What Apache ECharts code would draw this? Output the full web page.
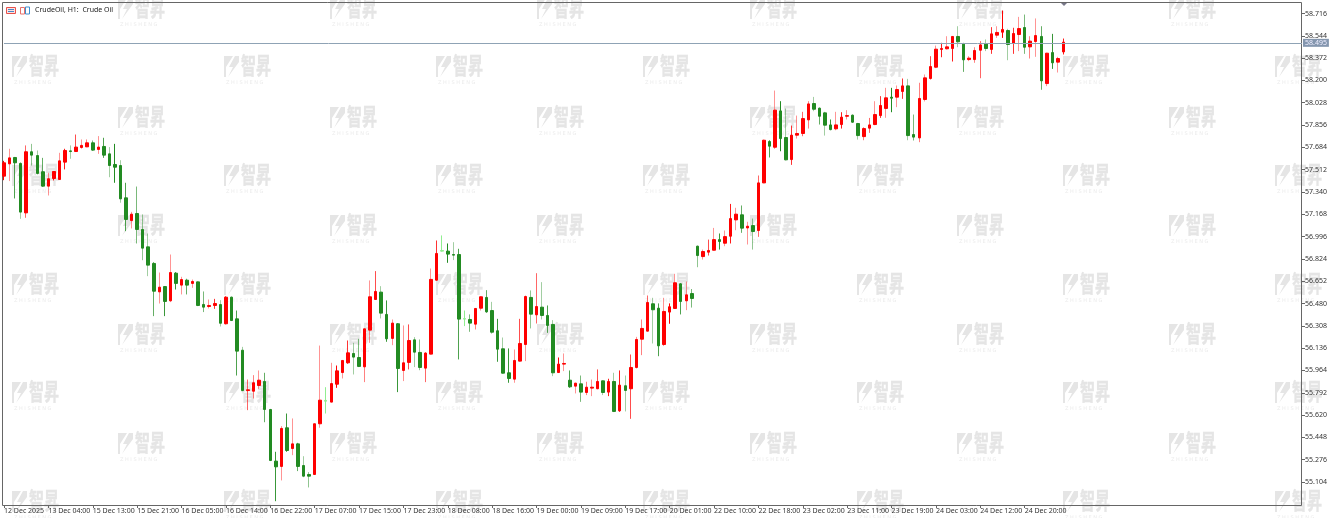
<!DOCTYPE html>
<html><head><meta charset="utf-8"><style>html,body{margin:0;padding:0;background:#fff}#c{width:1330px;height:518px}</style>
<script src="https://cdn.jsdelivr.net/npm/echarts@6/dist/echarts.min.js"></script></head><body><div id="c"></div>
<script>
const dateLabels=["12 Dec 2025","13 Dec 04:00","15 Dec 13:00","15 Dec 21:00","16 Dec 05:00","16 Dec 14:00","16 Dec 22:00","17 Dec 07:00","17 Dec 15:00","17 Dec 23:00","18 Dec 08:00","18 Dec 16:00","19 Dec 00:00","19 Dec 09:00","19 Dec 17:00","20 Dec 01:00","22 Dec 10:00","22 Dec 18:00","23 Dec 02:00","23 Dec 11:00","23 Dec 19:00","24 Dec 03:00","24 Dec 12:00","24 Dec 20:00"];
const priceTicks=["58.716","58.544","58.372","58.200","58.028","57.856","57.684","57.512","57.340","57.168","56.996","56.824","56.652","56.480","56.308","56.136","55.964","55.792","55.620","55.448","55.276","55.104"];
const lastPrice=58.495;
const opens=[57.462,57.557,57.606,57.560,57.179,57.650,57.621,57.496,57.385,57.444,57.436,57.570,57.657,57.652,57.683,57.688,57.719,57.668,57.691,57.634,57.552,57.544,57.295,57.120,57.174,57.051,56.917,56.789,56.570,56.611,56.501,56.714,56.622,56.660,56.635,56.647,56.473,56.457,56.465,56.472,56.324,56.529,56.362,56.120,55.809,55.804,55.848,55.879,55.663,55.265,55.224,55.522,55.362,55.398,55.231,55.162,55.162,55.553,55.733,55.720,55.858,55.948,56.023,56.095,56.064,55.992,56.275,56.511,56.568,56.396,56.211,56.324,55.964,56.026,56.200,56.103,55.982,56.090,56.660,56.889,56.884,56.858,56.858,56.364,56.357,56.321,56.444,56.527,56.426,56.270,56.131,55.946,55.897,56.036,56.164,56.527,56.393,56.452,56.388,56.319,55.948,56.013,55.889,55.843,55.861,55.794,55.828,55.823,55.884,55.797,55.879,55.653,55.846,55.823,55.987,56.205,56.267,56.478,56.444,56.164,56.414,56.442,56.632,56.501,56.557,56.922,56.842,56.876,56.891,56.973,56.945,56.999,57.125,57.164,57.063,57.081,57.043,57.410,57.729,57.685,57.965,57.760,57.590,57.778,57.791,57.896,58.022,57.986,57.950,57.857,57.827,57.860,57.924,57.932,57.868,57.767,57.832,57.860,57.929,57.984,58.071,58.071,58.115,58.158,57.783,57.757,58.053,58.215,58.302,58.439,58.444,58.446,58.539,58.480,58.361,58.361,58.433,58.480,58.439,58.549,58.572,58.585,58.485,58.554,58.608,58.459,58.500,58.539,58.176,58.415,58.341,58.420];
const closes=[57.565,57.603,57.565,57.185,57.650,57.624,57.483,57.385,57.442,57.498,57.580,57.660,57.652,57.686,57.699,57.719,57.663,57.686,57.624,57.544,57.531,57.287,57.128,57.169,57.051,56.907,56.776,56.575,56.606,56.496,56.719,56.635,56.665,56.622,56.650,56.465,56.452,56.465,56.480,56.328,56.529,56.349,56.113,55.809,55.815,55.869,55.889,55.663,55.270,55.221,55.517,55.347,55.398,55.224,55.149,55.149,55.553,55.735,55.727,55.863,55.961,56.041,56.100,56.067,55.995,56.285,56.532,56.573,56.406,56.208,56.329,55.979,56.023,56.195,56.105,55.987,56.098,56.666,56.866,56.884,56.861,56.853,56.360,56.360,56.329,56.442,56.532,56.416,56.259,56.128,55.943,55.902,56.041,56.172,56.534,56.398,56.457,56.388,56.311,55.946,56.013,56.018,55.838,55.866,55.797,55.835,55.835,55.879,55.794,55.879,55.648,55.851,55.810,55.987,56.203,56.288,56.488,56.432,56.154,56.419,56.455,56.640,56.496,56.547,56.519,56.850,56.881,56.889,56.973,56.958,56.996,57.135,57.169,57.061,57.076,57.035,57.410,57.739,57.693,57.971,57.752,57.588,57.778,57.791,57.906,58.019,57.978,57.924,57.855,57.821,57.857,57.917,57.929,57.878,57.775,57.829,57.857,57.937,58.007,58.066,58.063,58.130,58.158,57.775,57.763,58.061,58.220,58.307,58.441,58.446,58.459,58.539,58.498,58.359,58.372,58.431,58.474,58.446,58.559,58.570,58.593,58.477,58.562,58.600,58.456,58.503,58.546,58.197,58.410,58.336,58.369,58.495];
const lows=[57.431,57.424,57.290,57.133,57.141,57.544,57.475,57.380,57.313,57.429,57.436,57.514,57.596,57.650,57.673,57.686,57.657,57.634,57.603,57.454,57.411,57.257,57.038,57.059,56.943,56.814,56.691,56.383,56.480,56.383,56.491,56.588,56.550,56.550,56.601,56.460,56.414,56.442,56.439,56.303,56.320,56.345,55.925,55.804,55.658,55.748,55.822,55.565,55.265,54.956,55.116,55.337,55.311,55.188,55.141,55.062,55.160,55.522,55.632,55.718,55.830,55.902,56.015,55.933,55.990,55.874,56.177,56.508,56.365,56.185,56.159,55.797,55.882,55.972,55.990,55.966,55.874,56.088,56.658,56.881,56.794,56.815,56.049,56.306,56.262,56.280,56.426,56.408,56.247,56.031,55.938,55.869,55.869,56.034,56.036,56.288,56.326,56.357,56.254,55.920,55.946,55.959,55.830,55.787,55.722,55.774,55.766,55.820,55.774,55.766,55.643,55.645,55.648,55.591,55.979,56.082,56.265,56.172,56.074,56.152,56.324,56.439,56.396,56.429,56.449,56.760,56.819,56.850,56.889,56.896,56.922,56.943,57.045,57.025,56.935,56.896,56.994,57.408,57.606,57.672,57.654,57.583,57.549,57.752,57.770,57.829,57.963,57.860,57.775,57.816,57.816,57.829,57.899,57.873,57.744,57.739,57.796,57.855,57.911,57.912,57.955,57.994,58.058,57.739,57.737,57.724,58.038,58.207,58.295,58.379,58.439,58.346,58.456,58.266,58.349,58.336,58.217,58.426,58.405,58.528,58.528,58.356,58.405,58.426,58.405,58.369,58.382,58.128,58.156,58.289,58.261,58.400];
const highs=[57.58,57.673,57.61,57.570,57.699,57.711,57.660,57.603,57.488,57.501,57.642,57.673,57.699,57.783,57.745,57.745,57.737,57.771,57.758,57.686,57.711,57.585,57.411,57.187,57.382,57.167,57.020,56.799,56.719,56.615,56.858,56.722,56.686,56.671,56.665,56.650,56.573,56.511,56.516,56.506,56.535,56.535,56.426,56.146,55.894,55.928,55.964,55.946,55.668,55.337,55.535,55.632,55.594,55.406,55.303,55.180,55.553,56.156,55.835,56.023,56.002,56.045,56.195,56.177,56.208,56.285,56.658,56.730,56.614,56.504,56.357,56.328,56.311,56.319,56.221,56.203,56.105,56.750,56.966,57.005,56.943,56.953,56.902,56.426,56.396,56.445,56.535,56.583,56.493,56.362,56.218,56.134,56.126,56.362,56.542,56.581,56.714,56.645,56.465,56.352,56.064,56.095,55.964,55.869,55.925,55.877,55.894,55.972,55.887,55.900,55.946,55.964,55.925,56.087,56.223,56.357,56.542,56.524,56.481,56.524,56.481,56.709,56.636,56.650,56.592,56.927,56.896,56.973,57.063,57.020,57.043,57.248,57.218,57.236,57.110,57.135,57.467,57.744,57.739,58.122,58.040,57.983,57.852,57.929,57.958,58.040,58.073,57.991,57.958,57.899,57.958,57.955,57.971,57.937,57.873,57.839,57.911,58.040,58.079,58.143,58.143,58.161,58.215,58.212,57.937,58.182,58.246,58.387,58.469,58.490,58.541,58.541,58.618,58.490,58.387,58.456,58.503,58.516,58.611,58.618,58.739,58.598,58.606,58.690,58.708,58.541,58.678,58.618,58.413,58.559,58.382,58.523];
const lightDojiBars=[58,79,83];

const TOTAL_SLOTS=235, LABEL_EVERY=8;
const RED='#ff0000', GREEN='#228b22', LIGHT='#90ee90';
const categories=Array.from({length:TOTAL_SLOTS},(_,i)=>i%LABEL_EVERY===0&&dateLabels[i/LABEL_EVERY]?dateLabels[i/LABEL_EVERY]:'');
// The reference was resampled: wick strength varies with the sub-pixel phase of each bar.
function wickAlpha(i){const f=(3.7+5.55*i)%1;let d=Math.abs(f-0.7);if(d>0.5)d=1-d;return Math.max(0.42,1-2*d);}
function wickColor(i){
 if(lightDojiBars.includes(i))return LIGHT;
 const a=wickAlpha(i);return closes[i]>opens[i]?`rgba(255,0,0,${a})`:`rgba(34,139,34,${a})`;
}
const wicks=opens.map((o,i)=>({value:[o,closes[i],lows[i],highs[i]],itemStyle:{borderColor:wickColor(i),borderColor0:wickColor(i),color:wickColor(i),color0:wickColor(i)}}));
const bodies=opens.map((o,i)=>{
 const item={value:[o,closes[i],Math.min(o,closes[i]),Math.max(o,closes[i])]};
 if(lightDojiBars.includes(i))item.itemStyle={borderColor:LIGHT,borderColor0:LIGHT,color:LIGHT,color0:LIGHT};
 return item;});

const FONT='"Noto Sans", sans-serif';
const mkRowsA=[55,164,273,381,490], mkColsA=[12,224,436,643,857,1063,1275];
const mkRowsB=[-3,106,214,323,432], mkColsB=[118,330,537,750,957,1169];
const mkColor='#e5e5e5';
function mark(x,y){return {type:'group',x,y,silent:true,children:[
 {type:'polygon',shape:{points:[[0,1],[9,1],[2,12],[2,22],[0,22]]},style:{fill:mkColor}},
 {type:'polygon',shape:{points:[[15,1],[11,1],[5,12],[9,12],[4,22],[15,7]]},style:{fill:mkColor}},
 {type:'text',x:17,y:-1,scaleY:1.5,style:{text:'智昇',font:'700 15px "Noto Sans CJK SC"',fill:mkColor,stroke:mkColor,lineWidth:0.3}},
 {type:'text',x:2,y:25,style:{text:'Z H I S H E N G',font:'5px "DejaVu Sans"',fill:'#ebebeb'}}
]};}
const marks=[];
mkRowsA.forEach(y=>mkColsA.forEach(x=>marks.push(mark(x,y))));
mkRowsB.forEach(y=>mkColsB.forEach(x=>marks.push(mark(x,y))));

const chrome=[
 {type:'rect',shape:{x:2.5,y:2.5,width:1299,height:503},style:{fill:'none',stroke:'#666',lineWidth:1},z:1},
 {type:'polygon',shape:{points:[[1061,3],[1067,3],[1064,6]]},style:{fill:'#778'},z:1},
 {type:'rect',shape:{x:6.5,y:7.5,width:9,height:6},style:{fill:'#fbe3e0',stroke:'#e8504a',lineWidth:1},z:1},
 {type:'rect',shape:{x:8,y:9,width:6,height:1},style:{fill:'#4a86c8'},z:1},
 {type:'rect',shape:{x:8,y:11,width:6,height:1},style:{fill:'#4a86c8'},z:1},
 {type:'rect',shape:{x:20.5,y:7.5,width:4,height:6.5},style:{fill:'#fff',stroke:'#e8706a',lineWidth:1},z:1},
 {type:'rect',shape:{x:25.5,y:7,width:4,height:7},style:{fill:'#fff',stroke:'#3c8ed0',lineWidth:1},z:1}
];

const chart=echarts.init(document.getElementById('c'),null,{renderer:'canvas'});
chart.setOption({
 animation:false,backgroundColor:'#fff',
 title:{text:'CrudeOil, H1:  Crude Oil',left:32,top:6,padding:[0,0,0,3],textStyle:{fontFamily:FONT,fontSize:7,fontWeight:'normal',color:'#222'}},
 graphic:{elements:marks.concat(chrome)},
 grid:{left:4,top:1.5,width:1298,height:503.5,containLabel:false,outerBoundsMode:'none'},
 xAxis:{type:'category',data:categories,boundaryGap:false,
  axisLine:{show:false},
  axisTick:{show:true,length:3,inside:false,interval:(i)=>i%LABEL_EVERY===0&&!!categories[i],lineStyle:{color:'#666',width:1}},
  axisLabel:{show:true,interval:(i)=>i%LABEL_EVERY===0&&!!categories[i],align:'left',margin:2,fontFamily:FONT,fontSize:7,color:'#333',hideOverlap:false},
  splitLine:{show:false}},
 yAxis:{type:'value',position:'right',min:54.9267,max:58.8086,scale:true,
  axisLine:{show:false},
  axisTick:{show:true,length:3,customValues:priceTicks.map(Number),lineStyle:{color:'#666',width:1}},
  axisLabel:{show:true,margin:3,padding:[5,0,0,0],customValues:priceTicks.map(Number),formatter:v=>Number(v).toFixed(3),fontFamily:FONT,fontSize:7,color:'#333'},
  splitLine:{show:false}},
 series:[
  {type:'candlestick',name:'wicks',data:wicks,barWidth:1,clip:false,z:2,itemStyle:{borderWidth:1}},
  {type:'candlestick',name:'bodies',data:bodies,barWidth:3,clip:false,z:3,
   itemStyle:{color:RED,color0:GREEN,borderColor:RED,borderColor0:GREEN,borderWidth:1},
   markLine:{silent:true,symbol:'none',animation:false,
    lineStyle:{color:'#8fa3b5',width:1,type:'solid'},
    label:{show:true,position:'end',distance:1,formatter:()=>lastPrice.toFixed(3),fontFamily:FONT,fontSize:7,color:'#eef',backgroundColor:'#8496ae',padding:[1,2,0,2]},
    data:[{yAxis:lastPrice}]}
  }]
});
</script></body></html>
